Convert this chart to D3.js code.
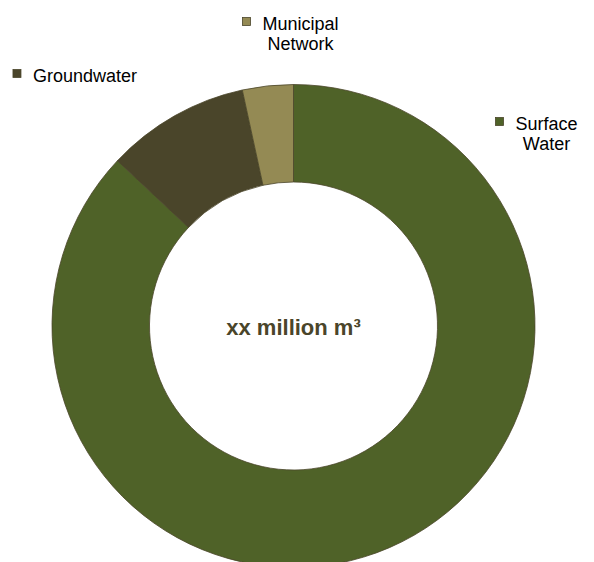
<!DOCTYPE html>
<html>
<head>
<meta charset="utf-8">
<script src="https://cdn.jsdelivr.net/npm/d3@7"></script>
<style>
    body { margin: 0; background: #fff; }
    svg { display: block; font-family: Arial, "Liberation Sans", sans-serif; }
    .label { font-size: 18px; fill: #000; }
    .center-title { font-size: 22px; font-weight: bold; fill: #4a452a; }
</style>
</head>
<body>
<div id="chart"></div>
<script>
// Data (share of supply, %)
var categories = ['Surface Water', 'Groundwater', 'Municipal Network'];
var values = [87.0, 9.6, 3.4];
var colors = ['#4f6228', '#4a452a', '#948a54'];
var labelLines = [['Surface', 'Water'], ['Groundwater'], ['Municipal', 'Network']];
var centerText = 'xx million m\u00b3';

// Layout
var width = 594,
    height = 562,
    cx = 293.5,
    cy = 326,
    outerRadius = 241.5,
    innerRadius = 144;

// where Excel put the data labels (centre x, first baseline)
var labelPos = [[546.5, 130], [85, 82], [300.5, 30]];

var svg = d3.select('#chart').append('svg')
    .attr('width', width)
    .attr('height', height);

var pie = d3.pie()
    .sort(null)
    .value(function(d) { return d; });

var arc = d3.arc()
    .innerRadius(innerRadius)
    .outerRadius(outerRadius);

var chartG = svg.append('g')
    .attr('transform', 'translate(' + cx + ',' + cy + ')');

chartG.selectAll('path.slice')
    .data(pie(values))
    .enter()
    .append('path')
    .attr('class', 'slice')
    .attr('d', arc)
    .attr('fill', function(d, i) { return colors[i]; })
    .attr('stroke', '#4a452a')
    .attr('stroke-width', 0.8);

chartG.append('text')
    .attr('class', 'center-title')
    .attr('text-anchor', 'middle')
    .attr('y', 9)
    .text(centerText);

// data labels with a small colour key
var labels = svg.selectAll('g.label-g')
    .data(categories)
    .enter()
    .append('g')
    .attr('class', 'label-g')
    .attr('transform', function(d, i) {
        return 'translate(' + labelPos[i][0] + ',' + labelPos[i][1] + ')';
    });

labels.each(function(d, i) {
    var g = d3.select(this);
    var text = g.append('text')
        .attr('class', 'label')
        .attr('text-anchor', 'middle');
    text.selectAll('tspan')
        .data(labelLines[i])
        .enter()
        .append('tspan')
        .attr('x', 0)
        .attr('dy', function(l, j) { return j === 0 ? 0 : 20; })
        .text(function(l) { return l; });

    var firstW = text.select('tspan').node().getComputedTextLength();
    g.append('rect')
        .attr('x', -firstW / 2 - 12 - 8)
        .attr('y', -12.5)
        .attr('width', 8)
        .attr('height', 8)
        .attr('fill', colors[i])
        .attr('stroke', '#4a452a')
        .attr('stroke-width', 0.8);
});
</script>
</body>
</html>
